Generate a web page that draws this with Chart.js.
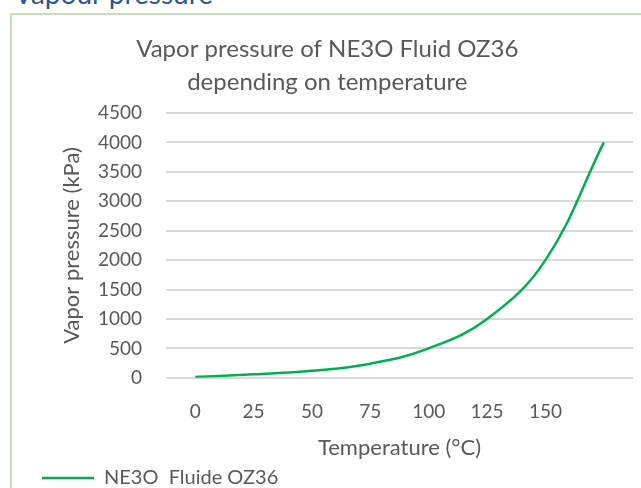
<!DOCTYPE html>
<html>
<head>
<meta charset="utf-8">
<script src="https://cdn.jsdelivr.net/npm/chart.js@4/dist/chart.umd.min.js"></script>
<style>
  body { margin: 0; background: #fff; overflow: hidden; }
  .header { position: absolute; left: 14px; top: -24px; font: 28px Lato, sans-serif; color: #2f5597; }
  .frame { position: absolute; left: 10px; top: 13px; width: 700px; height: 520px; border: 2px solid #c5e0b4; box-sizing: border-box; }
  .wrap { position: absolute; left: 0; top: 0; width: 641px; height: 488px; }
</style>
</head>
<body>
<div class="header">Vapour pressure</div>
<div class="frame"></div>
<div class="wrap"><canvas id="myChart"></canvas></div>
<script>
// temperature categories (last one has no label in the original)
const temperatures = ['0', '25', '50', '75', '100', '125', '150', ''];
// vapor pressure in kPa
const pressures = [15, 60, 118, 240, 500, 1000, 2000, 4000];
const titleLines = ['Vapor pressure of NE3O Fluid OZ36', 'depending on temperature'];
const seriesName = 'NE3O  Fluide OZ36';

const grey = '#595959';
const font = 'Lato, sans-serif';

// the title sits a bit left of the plot centre in the original
const pad = '\u00a0\u00a0\u00a0';

const ctx = document.getElementById('myChart').getContext('2d');
new Chart(ctx, {
  type: 'line',
  data: {
    labels: temperatures,
    datasets: [{
      label: seriesName,
      data: pressures,
      borderColor: '#00b050',
      backgroundColor: '#00b050',
      borderWidth: 2.5,
      pointRadius: 0,
      tension: 0.4,
      fill: false
    }]
  },
  options: {
    responsive: true,
    maintainAspectRatio: false,
    animation: false,
    layout: { padding: { left: 40, right: 8, top: 33, bottom: -10 } },
    plugins: {
      title: {
        display: true,
        text: titleLines.map(t => t + pad),
        color: grey,
        font: { family: font, size: 24, weight: 'normal', lineHeight: 1.375 },
        padding: { top: 0, bottom: 14 }
      },
      legend: {
        position: 'bottom',
        align: 'start',
        labels: {
          color: grey,
          font: { family: font, size: 20 },
          usePointStyle: true,
          pointStyle: 'line',
          pointStyleWidth: 52,
          padding: 2
        }
      },
      tooltip: { enabled: false }
    },
    scales: {
      x: {
        offset: true,
        grid: { display: false },
        border: { display: false },
        ticks: { color: grey, font: { family: font, size: 19 }, padding: 15, maxRotation: 0, autoSkip: false },
        title: { display: true, text: 'Temperature (°C)', color: grey, font: { family: font, size: 22 }, padding: { top: -4, bottom: 5 } }
      },
      y: {
        min: 0,
        max: 4500,
        grid: { color: '#d9d9d9', lineWidth: 2, drawTicks: false },
        border: { display: false },
        ticks: { stepSize: 500, autoSkip: false, color: grey, font: { family: font, size: 19 }, padding: 24, callback: (v) => String(v) },
        title: { display: true, text: 'Vapor pressure (kPa)', color: grey, font: { family: font, size: 22 }, padding: { top: 19, bottom: 0 } },
        afterFit: (scale) => { scale.width = 126; }
      }
    }
  }
});
</script>
</body>
</html>
